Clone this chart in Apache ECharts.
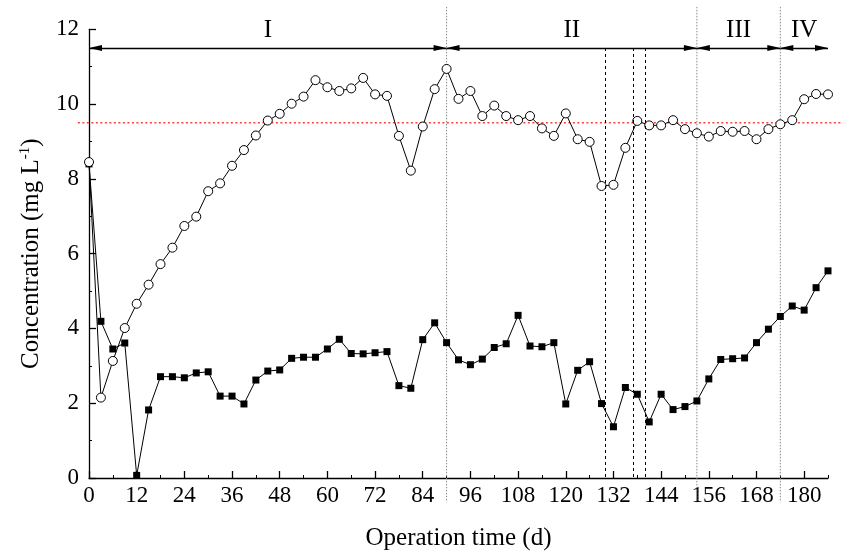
<!DOCTYPE html>
<html>
<head>
<meta charset="utf-8">
<script src="https://cdn.jsdelivr.net/npm/echarts@6/dist/echarts.min.js"></script>
<style>
html,body{margin:0;padding:0;background:#fff;}
#chart{width:845px;height:556px;}
</style>
</head>
<body>
<div id="chart"></div>
<script>
// ---- data ----
const days = [0,3,6,9,12,15,18,21,24,27,30,33,36,39,42,45,48,51,54,57,60,63,66,69,72,75,78,81,84,87,90,93,96,99,102,105,108,111,114,117,120,123,126,129,132,135,138,141,144,147,150,153,156,159,162,165,168,171,174,177,180,183,186];
const circleValues = [8.45,2.15,3.13,4.01,4.66,5.17,5.72,6.16,6.74,6.99,7.67,7.88,8.35,8.77,9.16,9.56,9.74,10.01,10.20,10.64,10.45,10.35,10.42,10.70,10.26,10.22,9.15,8.22,9.40,10.40,10.94,10.14,10.35,9.68,9.96,9.68,9.57,9.68,9.35,9.15,9.75,9.06,8.99,7.81,7.84,8.83,9.55,9.43,9.43,9.57,9.33,9.22,9.13,9.28,9.26,9.28,9.06,9.33,9.46,9.57,10.13,10.27,10.26];
const squareValues = [8.40,4.19,3.45,3.61,0.07,1.82,2.71,2.71,2.68,2.81,2.84,2.19,2.19,1.98,2.62,2.86,2.89,3.20,3.23,3.23,3.45,3.71,3.33,3.32,3.35,3.38,2.47,2.40,3.70,4.15,3.62,3.16,3.03,3.18,3.49,3.59,4.35,3.53,3.51,3.62,1.98,2.88,3.11,1.99,1.37,2.42,2.24,1.50,2.24,1.83,1.91,2.06,2.65,3.17,3.19,3.21,3.62,3.98,4.32,4.60,4.49,5.09,5.54];
const xTickLabels = [0,12,24,36,48,60,72,84,96,108,120,132,144,156,168,180];
const phaseNames = ['I','II','III','IV'];
const phaseStarts = [0,90,153,174];
const phaseEnds = [90,153,174,186];
const phaseBoundaries = [90,153,174];
const dashedDays = [130,137,140];
const arrowLevel = 11.5;
const thresholdLevel = 9.5;
const boundarySpan = [-0.65, 12.6];
const thresholdSpan = [-2.8, 189.8];

const FONT = 'Liberation Serif';
const chart = echarts.init(document.getElementById('chart'), null, {renderer:'canvas'});

const pair = (x, y) => days.map((d, i) => [d, y[i]]);

const arrowLines = phaseNames.map((n, i) => [
  {coord:[phaseStarts[i], arrowLevel], name:n},
  {coord:[phaseEnds[i], arrowLevel]}
]);
const dashLines = dashedDays.map(d => [{coord:[d, arrowLevel]},{coord:[d, 0]}]);

const option = {
  animation:false,
  backgroundColor:'#fff',
  grid:{left:89, right:17, top:29.3, bottom:77.7, containLabel:false},
  xAxis:[{
    type:'value', min:0, max:186, interval:12,
    name:'Operation time (d)', nameLocation:'middle', nameGap:48,
    nameTextStyle:{fontFamily:FONT, fontSize:25, color:'#000'},
    axisLine:{show:true, onZero:false, lineStyle:{color:'#000', width:1.3}},
    axisTick:{show:true, inside:true, length:7, customValues:xTickLabels, lineStyle:{color:'#000', width:1.3}},
    axisLabel:{customValues:xTickLabels, fontFamily:FONT, fontSize:23, color:'#000', margin:6},
    splitLine:{show:false}
  },{
    type:'value', min:0, max:186, interval:6, position:'bottom',
    axisLine:{show:false},
    axisTick:{show:true, inside:true, length:3, lineStyle:{color:'#000', width:1}},
    axisLabel:{show:false},
    splitLine:{show:false}
  }],
  yAxis:{
    type:'value', min:0, max:12, interval:2,
    name:'{a|Concentration (mg L}{s|-1}{a|)}', nameLocation:'middle', nameGap:44,
    nameTextStyle:{rich:{
      a:{fontFamily:FONT, fontSize:25, color:'#000'},
      s:{fontFamily:FONT, fontSize:15, color:'#000', verticalAlign:'top', padding:[0,0,12,0]}
    }},
    axisLine:{show:true, lineStyle:{color:'#000', width:1.3}},
    axisTick:{show:true, inside:true, length:7, lineStyle:{color:'#000', width:1.3}},
    minorTick:{show:true, splitNumber:2, length:3, lineStyle:{color:'#000', width:1}},
    axisLabel:{fontFamily:FONT, fontSize:23, color:'#000', margin:10},
    splitLine:{show:false}
  },
  series:[
    {
      type:'line', data:pair(days, squareValues), symbol:'rect', symbolSize:7,
      lineStyle:{color:'#000', width:1}, itemStyle:{color:'#000'}, z:3,
      markLine:{
        silent:true, symbol:['none','none'], animation:false,
        lineStyle:{color:'#000', type:[3,3], width:1},
        label:{show:false},
        data:dashLines
      }
    },
    {
      type:'line', data:pair(days, circleValues), symbol:'circle', symbolSize:9,
      lineStyle:{color:'#000', width:1}, itemStyle:{color:'#fff', borderColor:'#000', borderWidth:1}, z:4,
      markLine:{
        silent:true, animation:false,
        symbol:['triangle','triangle'], symbolSize:[6,13], symbolOffset:[[0,6.5],[0,6.5]],
        lineStyle:{color:'#000', type:'solid', width:1.3},
        label:{show:true, position:'middle', distance:5, formatter:p=>p.name, fontFamily:FONT, fontSize:25, color:'#000'},
        emphasis:{disabled:true},
        data:arrowLines
      }
    }
  ]
};
chart.setOption(option);

function addGraphics(){
  const g = [];
  phaseBoundaries.forEach(d => {
    const p1 = chart.convertToPixel({gridIndex:0}, [d, boundarySpan[1]]);
    const p2 = chart.convertToPixel({gridIndex:0}, [d, boundarySpan[0]]);
    g.push({type:'line', silent:true, z:1, shape:{x1:p1[0], y1:p1[1], x2:p2[0], y2:p2[1]},
      style:{stroke:'#888', lineWidth:1, lineDash:[1.5,1.5]}});
  });
  const r1 = chart.convertToPixel({gridIndex:0}, [thresholdSpan[0], thresholdLevel]);
  const r2 = chart.convertToPixel({gridIndex:0}, [thresholdSpan[1], thresholdLevel]);
  g.push({type:'line', silent:true, z:2, shape:{x1:r1[0], y1:r1[1], x2:r2[0], y2:r2[1]},
    style:{stroke:'#ff3b3b', lineWidth:1.5, lineDash:[2,2.5]}});
  chart.setOption({graphic:g});
}
addGraphics();
</script>
</body>
</html>
